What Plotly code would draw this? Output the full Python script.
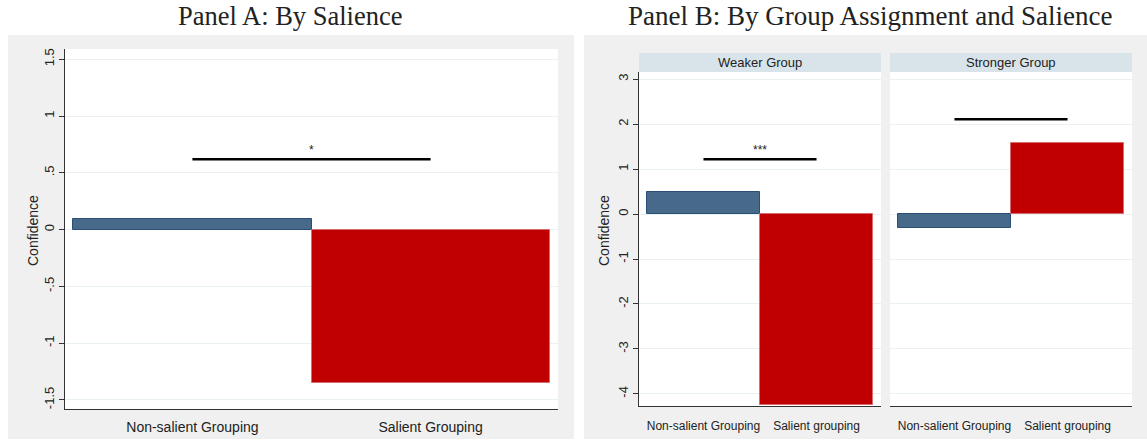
import plotly.graph_objects as go

W, H = 1147, 443

# Panel A: mean confidence by salience
cats_a = ["Non-salient Grouping", "Salient Grouping"]
conf_a = [0.09, -1.35]
sig_a = 0.62
stars_a = "*"

# Panel B: mean confidence by group assignment and salience
cats_b = ["Non-salient Grouping", "Salient grouping"]
groups_b = ["Weaker Group", "Stronger Group"]
conf_weaker = [0.50, -4.25]
conf_stronger = [-0.32, 1.58]
sig_b = [1.22, 2.11]
stars_b = ["***", ""]

ticks_a = [-1.5, -1, -0.5, 0, 0.5, 1, 1.5]
ticktext_a = ["-1.5", "-1", "-.5", "0", ".5", "1", "1.5"]
ticks_b = [-4, -3, -2, -1, 0, 1, 2, 3]
ticktext_b = ["-4", "-3", "-2", "-1", "0", "1", "2", "3"]

BLUE = "#476a8a"
BLUE_EDGE = "#2b4f74"
RED = "#c00000"
RED_EDGE = "#d96c6c"
GRID = "#e9f1f2"
BG = "#f0f0f0"
STRIP = "#d8e4ea"
SANS = "Liberation Sans, Arial, sans-serif"
SERIF = "Liberation Serif, Times New Roman, serif"


def px(x):
    return x / W


def py(y):
    return 1 - y / H


xs = [0, 1]
fig = go.Figure()

fig.add_trace(go.Bar(x=xs, y=conf_a, width=1, xaxis="x", yaxis="y",
                     marker=dict(color=[BLUE, RED], line=dict(color=[BLUE_EDGE, RED_EDGE], width=1))))
fig.add_trace(go.Bar(x=xs, y=conf_weaker, width=1, xaxis="x2", yaxis="y2",
                     marker=dict(color=[BLUE, RED], line=dict(color=[BLUE_EDGE, RED_EDGE], width=1))))
fig.add_trace(go.Bar(x=xs, y=conf_stronger, width=1, xaxis="x3", yaxis="y3",
                     marker=dict(color=[BLUE, RED], line=dict(color=[BLUE_EDGE, RED_EDGE], width=1))))

# significance brackets
fig.add_trace(go.Scatter(x=xs, y=[sig_a, sig_a], mode="lines", xaxis="x", yaxis="y",
                         line=dict(color="black", width=2.5)))
for i, ax in enumerate(["2", "3"]):
    fig.add_trace(go.Scatter(x=xs, y=[sig_b[i], sig_b[i]], mode="lines", xaxis="x" + ax, yaxis="y" + ax,
                             line=dict(color="black", width=2.5)))


def note(x, y, text, size, family=SANS, xref="paper", yref="paper", **kw):
    d = dict(x=x, y=y, xref=xref, yref=yref, text=text, showarrow=False,
             xanchor="center", yanchor="middle", font=dict(family=family, size=size, color="#222"))
    d.update(kw)
    return d


annotations = [note(0.5, sig_a, stars_a, 12, xref="x", yref="y", yanchor="bottom")]
for i, ax in enumerate(["2", "3"]):
    if stars_b[i]:
        annotations.append(note(0.5, sig_b[i], stars_b[i], 12, xref="x" + ax, yref="y" + ax,
                                yanchor="bottom"))

# panel titles
annotations.append(note(px(290), py(16), "Panel A: By Salience", 26.5, family=SERIF))
annotations.append(note(px(870), py(16), "Panel B: By Group Assignment and Salience", 27, family=SERIF))
# y-axis titles
annotations.append(note(px(33), py(231), "Confidence", 14, textangle=-90))
annotations.append(note(px(604), py(231), "Confidence", 14, textangle=-90))
# facet strip labels
strips = [(639, 881), (890, 1132)]
for (x0, x1), g in zip(strips, groups_b):
    annotations.append(note(px((x0 + x1) / 2), py(62.5), g, 13))


def rect(x0, x1, y0, y1, color):
    return dict(type="rect", xref="paper", yref="paper", x0=px(x0), x1=px(x1), y0=py(y1), y1=py(y0),
                fillcolor=color, line=dict(width=0), layer="below")


shapes = [
    rect(8, 574, 35, 439, BG),
    rect(584, 1147, 35, 439, BG),
    rect(65, 558, 49, 409, "white"),
    rect(639, 881, 72, 406, "white"),
    rect(890, 1132, 72, 406, "white"),
]
for x0, x1 in strips:
    shapes.append(rect(x0, x1, 53, 72, STRIP))

tickfont = dict(family=SANS, size=13, color="#222")
common_y = dict(showgrid=True, gridcolor=GRID, gridwidth=1, zeroline=False, ticks="outside", ticklen=5,
                tickcolor="#333", showline=True, linecolor="#333", linewidth=1, tickangle=-90,
                tickfont=tickfont)
common_x = dict(showgrid=False, zeroline=False, ticks="outside", tickcolor="rgba(0,0,0,0)",
                showline=True, linecolor="#333", linewidth=1, tickvals=xs)

fig.update_layout(
    width=W, height=H,
    margin=dict(l=0, r=0, t=0, b=0),
    paper_bgcolor="white", plot_bgcolor="white",
    showlegend=False, bargap=0,
    xaxis=dict(domain=[px(65), px(558)], range=[-0.535, 1.535], anchor="y", ticktext=cats_a, ticklen=5,
               tickfont=dict(family=SANS, size=14, color="#222"), **common_x),
    yaxis=dict(domain=[py(409), py(49)], range=[-1.58, 1.59], anchor="x",
               tickvals=ticks_a, ticktext=ticktext_a, **common_y),
    xaxis2=dict(domain=[px(639), px(881)], range=[-0.57, 1.57], anchor="y2", ticktext=cats_b, ticklen=9,
                tickfont=dict(family=SANS, size=12, color="#222"), **common_x),
    yaxis2=dict(domain=[py(406), py(72)], range=[-4.27, 3.16], anchor="x2",
                tickvals=ticks_b, ticktext=ticktext_b, **common_y),
    xaxis3=dict(domain=[px(890), px(1132)], range=[-0.57, 1.57], anchor="y3", ticktext=cats_b, ticklen=9,
                tickfont=dict(family=SANS, size=12, color="#222"), **common_x),
    yaxis3=dict(domain=[py(406), py(72)], range=[-4.27, 3.16], anchor="x3", matches="y2",
                tickvals=ticks_b, showgrid=True, gridcolor=GRID, zeroline=False, showline=False,
                ticks="", showticklabels=False),
    annotations=annotations,
    shapes=shapes,
)

fig.write_html("out.html")
